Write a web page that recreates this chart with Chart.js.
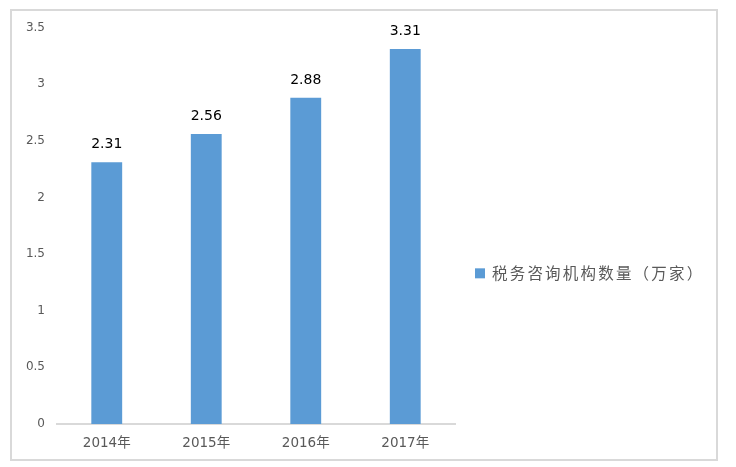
<!DOCTYPE html>
<html>
<head>
<meta charset="utf-8">
<script src="https://cdn.jsdelivr.net/npm/chart.js@4/dist/chart.umd.min.js"></script>
<style>
  html, body { margin: 0; padding: 0; background: #fff; }
  #kuang { position: absolute; left: 10px; top: 9px; width: 704px; height: 448px; border: 2px solid #d9d9d9; }
  #wrap { position: absolute; left: 0; top: 0; width: 736px; height: 467px; }
</style>
</head>
<body>
<div id="kuang"></div>
<div id="wrap"><canvas id="grafico"></canvas></div>
<script>
const anos = ['2014年', '2015年', '2016年', '2017年'];
const quantidade = [2.31, 2.56, 2.88, 3.31];
const nomeSerie = '税务咨询机构数量（万家）';

const FONTE = '"DejaVu Sans", "Noto Sans CJK SC", sans-serif';
const COR_BARRA = '#5b9bd5';

// numeros em cima das barras
const rotulos = {
    id: 'rotulos',
    afterDatasetsDraw(chart) {
        const ctx = chart.ctx;
        const meta = chart.getDatasetMeta(0);
        ctx.save();
        ctx.font = '14px ' + FONTE;
        ctx.fillStyle = '#000';
        ctx.textAlign = 'center';
        ctx.textBaseline = 'alphabetic';
        meta.data.forEach((barra, i) => {
            ctx.fillText(quantidade[i].toFixed(2), barra.x, barra.y - 14);
        });
        ctx.restore();
    }
};

// legenda a direita, desenhada a mao
const legenda = {
    id: 'legenda',
    afterDraw(chart) {
        const ctx = chart.ctx;
        const area = chart.chartArea;
        const x = area.right + 20;
        const y = area.top + (area.bottom - area.top) * 0.62;
        ctx.save();
        ctx.fillStyle = COR_BARRA;
        ctx.fillRect(x, y - 5, 10, 10);
        ctx.font = '15.5px "Noto Sans CJK SC", sans-serif';
        ctx.letterSpacing = '2.2px';
        ctx.fillStyle = '#595959';
        ctx.textAlign = 'left';
        ctx.textBaseline = 'middle';
        ctx.fillText(nomeSerie, x + 17, y);
        ctx.restore();
    }
};

const ctx = document.getElementById('grafico');

let grafico = new Chart(ctx, {
    type: 'bar',
    data: {
        labels: anos,
        datasets: [{
            label: nomeSerie,
            data: quantidade,
            backgroundColor: COR_BARRA,
            barPercentage: 0.31,
            categoryPercentage: 1
        }]
    },
    options: {
        responsive: true,
        maintainAspectRatio: false,
        animation: false,
        layout: {
            padding: { left: 20, right: 281, top: 27.5, bottom: 13 }
        },
        plugins: {
            tooltip: { enabled: false },
            legend: { display: false }
        },
        scales: {
            x: {
                grid: { display: false, drawTicks: false },
                border: { display: true, color: '#d9d9d9', width: 2 },
                afterFit(escala) { escala.height = 30; },
                ticks: {
                    color: '#595959',
                    padding: 11,
                    font: { family: FONTE, size: 13.5 }
                }
            },
            y: {
                min: 0,
                max: 3.5,
                grid: { display: false, drawTicks: false },
                border: { display: false },
                afterFit(escala) { escala.width = 37; },
                ticks: {
                    stepSize: 0.5,
                    color: '#595959',
                    padding: 12,
                    font: { family: FONTE, size: 12 },
                    callback: valor => String(valor)
                }
            }
        }
    },
    plugins: [rotulos, legenda]
});
</script>
</body>
</html>
